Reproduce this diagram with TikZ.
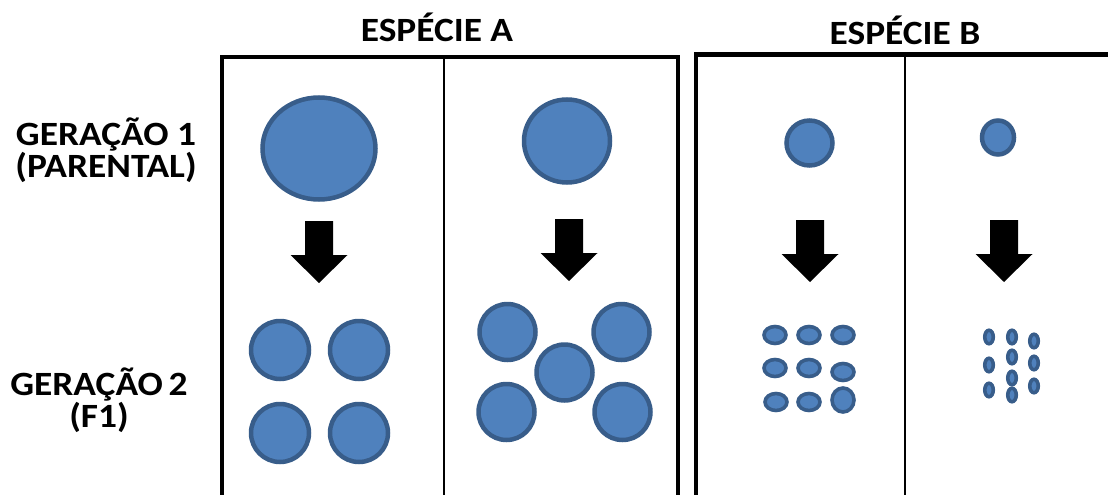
\documentclass[tikz,border=0pt]{standalone}
\usepackage{fontspec}
\setmainfont{Carlito}[FakeStretch=1.1]
\usetikzlibrary{shapes.geometric}
\definecolor{cellfill}{HTML}{4F81BD}
\definecolor{celldraw}{HTML}{385D8A}
\tikzset{
  lbl/.style={font=\fontsize{34}{28}\selectfont\bfseries, inner sep=0pt, anchor=base, align=center},
  frame/.style={draw=black, line width=4.5pt, line join=miter},
  divider/.style={draw=black, line width=2pt},
  cell/.style={ellipse, fill=cellfill, draw=celldraw, line width=4.5pt, inner sep=0pt, outer sep=0pt},
  tinycell/.style={ellipse, fill=cellfill, draw=celldraw, line width=3.6pt, inner sep=0pt, outer sep=0pt},
  downarrow/.pic={\fill[black] (-14,0) -- (14,0) -- (14,34) -- (28.5,34) -- (0,62) -- (-28.5,34) -- (-14,34) -- cycle;}
}
\newcommand{\cellat}[5]{\node[cell, minimum width=#3pt, minimum height=#4pt] (#5) at (#1,#2) {};}
\begin{document}
\begin{tikzpicture}[x=1pt, y=-1pt]
\useasboundingbox (0,0) rectangle (1108,495);
\clip (0,0) rectangle (1108,495);
% frames
\draw[frame] (222,600) -- (222,57) -- (678,57) -- (678,600);
\draw[divider] (444,57) -- (444,600);
\draw[frame] (696,600) -- (696,54.5) -- (1200,54.5);
\draw[divider] (905,54.5) -- (905,600);
% titles
\node[lbl] (tA) at (437,42) {ESPÉCIE A};
\node[lbl] (tB) at (905,45) {ESPÉCIE B};
\node[lbl] (g1) at (106,177) {GERAÇÃO 1\\(PARENTAL)};
\node[lbl] (g2) at (99,427) {GERAÇÃO\kern-0.08em\ 2\\(F1)};
% generation 1
\cellat{319}{148.5}{113}{102}{pA1}
\cellat{567}{141}{86}{83}{pA2}
\cellat{809.5}{143}{46}{45}{pB1}
\cellat{998}{137.5}{32}{34}{pB2}
% arrows
\pic at (319,221) {downarrow};
\pic at (569,219) {downarrow};
\pic at (810,220) {downarrow};
\pic at (1004,220) {downarrow};
% generation 2, species A left
\cellat{280}{350}{58}{58}{fA1}
\cellat{359}{350}{58}{58}{fA2}
\cellat{280}{433}{58}{58}{fA3}
\cellat{359}{433}{58}{58}{fA4}
% species A right
\cellat{507.5}{332}{56}{56}{fA5}
\cellat{621.5}{332}{56}{56}{fA6}
\cellat{564.5}{372.5}{56}{56}{fA7}
\cellat{506.5}{412}{56}{56}{fA8}
\cellat{622.5}{412}{56}{56}{fA9}
% species B left
\foreach \x/\y/\n in {775/335/1, 809/335/2, 843/335/3, 775/368/4, 809/368/5, 776/402/7, 809/402/8}{
  \node[tinycell, minimum width=22pt, minimum height=17pt] (fB\n) at (\x,\y) {};
}
\node[tinycell, minimum width=22pt, minimum height=17pt] (fB6) at (843,372) {};
\node[tinycell, minimum width=22pt, minimum height=24pt] (fB9) at (843,400) {};
% species B right
\foreach \x/\y/\n in {989/337/1, 989/365/2, 989/390/3, 1012/337/4, 1012/357/5, 1012/378/6, 1012/395/7, 1034/341/8, 1034/363/9, 1034/386/10}{
  \node[tinycell, minimum width=8.5pt, minimum height=13.5pt] (fC\n) at (\x,\y) {};
}
\end{tikzpicture}
\end{document}
